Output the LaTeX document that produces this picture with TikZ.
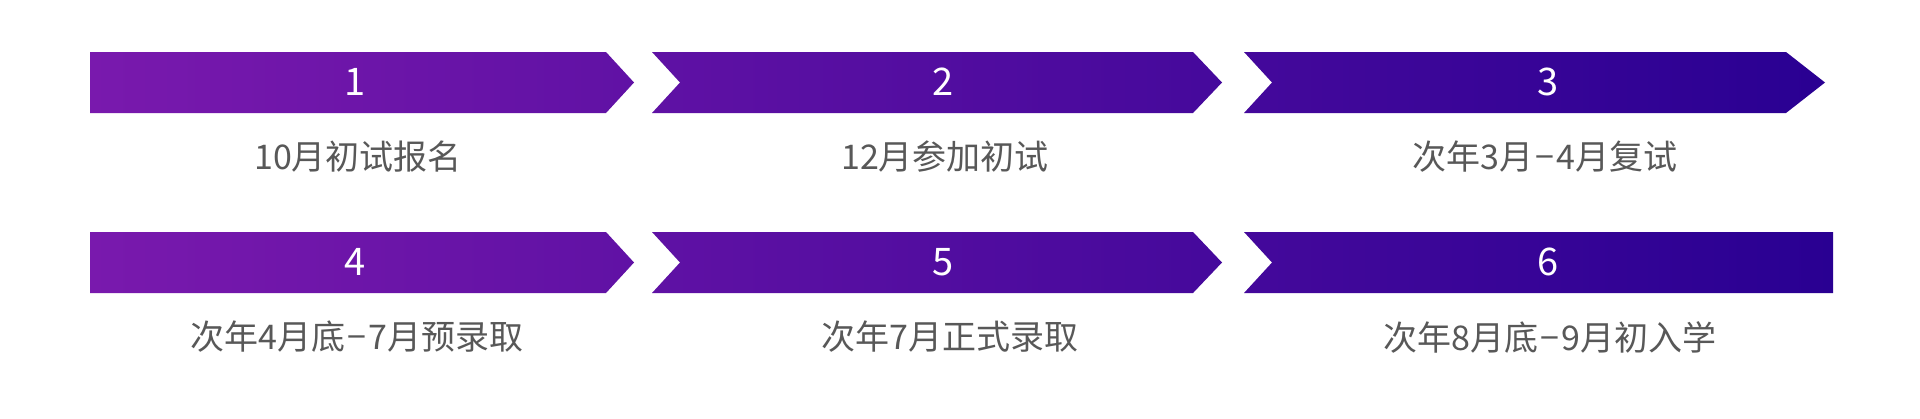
\documentclass[tikz,border=0pt]{standalone}
\usepackage{fontspec}
\setmainfont{Noto Sans CJK SC}
\definecolor{gradL}{RGB}{121,25,173}
\definecolor{gradR}{RGB}{41,0,146}
\definecolor{labelgray}{RGB}{88,88,88}
\newcommand{\rangedash}{\kern1pt−\kern1pt}
\tikzset{
  numtext/.style={text=white, font=\fontsize{19pt}{21pt}\selectfont, inner sep=0pt, anchor=center},
  captext/.style={text=labelgray, font=\fontsize{17pt}{19pt}\selectfont, inner sep=0pt, anchor=center}
}
\begin{document}
\begin{tikzpicture}[x=0.5pt,y=-0.5pt]
\useasboundingbox (0,0) rectangle (1920,418);
\fill[white] (0,0) rectangle (1920,418);
% Row 1 arrows
\begin{scope}
  \clip (90,52) -- (606,52) -- (634,82.5) -- (606,113) -- (90,113) -- cycle
        (652,52) -- (1193,52) -- (1222,82.5) -- (1193,113) -- (652,113) -- (680,82.5) -- cycle
        (1244,52) -- (1786,52) -- (1825,82.5) -- (1786,113) -- (1244,113) -- (1272,82.5) -- cycle;
  \shade[left color=gradL, right color=gradR] (90,50) rectangle (1833,115);
\end{scope}
% Row 2 arrows
\begin{scope}
  \clip (90,232) -- (606,232) -- (634,262.5) -- (606,293) -- (90,293) -- cycle
        (652,232) -- (1193,232) -- (1222,262.5) -- (1193,293) -- (652,293) -- (680,262.5) -- cycle
        (1244,232) -- (1833,232) -- (1833,293) -- (1244,293) -- (1272,262.5) -- cycle;
  \shade[left color=gradL, right color=gradR] (90,230) rectangle (1833,295);
\end{scope}
% numbers
\node[numtext] (n1) at (355,82) {1};
\node[numtext] (n2) at (943,82) {2};
\node[numtext] (n3) at (1548,82) {3};
\node[numtext] (n4) at (355,262) {4};
\node[numtext] (n5) at (943,262) {5};
\node[numtext] (n6) at (1548,262) {6};
% captions
\node[captext] (c1) at (358,157) {10月初试报名};
\node[captext] (c2) at (945,157) {12月参加初试};
\node[captext] (c3) at (1545,157) {次年3月\rangedash 4月复试};
\node[captext] (c4) at (357,337) {次年4月底\rangedash 7月预录取};
\node[captext] (c5) at (950,337) {次年7月正式录取};
\node[captext] (c6) at (1550,337) {次年8月底\rangedash 9月初入学};
\end{tikzpicture}
\end{document}
